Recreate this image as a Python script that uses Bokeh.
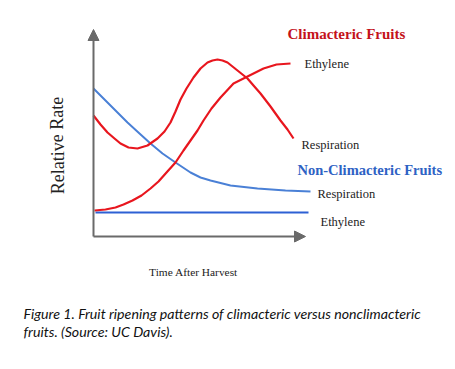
from bokeh.plotting import figure
from bokeh.models import Range1d, Arrow, NormalHead, Label
from bokeh.embed import file_html
from bokeh.resources import INLINE

# Time after harvest (arbitrary units) and relative rates
clim_resp_t = [0, 0.35, 0.7, 1.05, 1.35, 1.75, 2.2, 2.7, 3.2, 3.55, 3.85, 4.1, 4.35, 4.65, 5.0, 5.35, 5.7, 5.95,
               6.2, 6.45, 6.7, 7.2, 7.7, 8.0, 8.35, 8.85, 9.35, 9.7, 10.0]
clim_resp_v = [6.05, 5.6, 5.2, 4.9, 4.65, 4.45, 4.4, 4.55, 4.9, 5.25, 5.7, 6.25, 6.85, 7.4, 7.95, 8.4, 8.7, 8.8,
               8.85, 8.8, 8.7, 8.3, 7.9, 7.55, 7.15, 6.5, 5.8, 5.35, 4.9]

clim_eth_t = [0.05, 0.6, 1.1, 1.5, 1.95, 2.4, 2.85, 3.25, 3.65, 4.1, 4.5, 4.85, 5.2, 5.5, 5.9, 6.35, 7.0, 7.7,
              8.1, 8.5, 9.15, 9.85]
clim_eth_v = [1.3, 1.35, 1.45, 1.6, 1.8, 2.05, 2.4, 2.75, 3.2, 3.7, 4.3, 4.8, 5.3, 5.8, 6.4, 6.95, 7.65, 8.0,
              8.2, 8.4, 8.6, 8.65]

non_resp_t = [0, 0.5, 1.1, 1.7, 2.3, 2.85, 3.45, 4.1, 4.85, 5.35, 5.85, 6.85, 8.2, 9.6, 10.85]
non_resp_v = [7.4, 6.9, 6.3, 5.7, 5.15, 4.65, 4.15, 3.7, 3.2, 2.95, 2.8, 2.55, 2.4, 2.3, 2.25]

non_eth_t = [0.1, 10.75]
non_eth_v = [1.2, 1.2]

x_axis_end = 10.6
y_axis_end = 10.35

RED = "#e8161e"
RED_T = "#c4121a"
BLUE_R = "#4a80d6"
BLUE_E = "#2d60d4"
BLUE_T = "#2e62c4"
GREY = "#6a6a6a"
TXT = "#222222"
SERIF = "Liberation Serif"

p = figure(width=447, height=361, output_backend="svg", toolbar_location=None,
           x_range=Range1d(-4.65, 17.7), y_range=Range1d(-6.25, 11.8),
           min_border=0, outline_line_color=None)
p.axis.visible = False
p.grid.visible = False
p.background_fill_color = "white"
p.border_fill_color = "white"

# axes with arrows
p.add_layout(Arrow(x_start=0, y_start=0, x_end=0, y_end=y_axis_end, line_color=GREY, line_width=2,
                   end=NormalHead(size=11, fill_color=GREY, line_color=GREY)))
p.add_layout(Arrow(x_start=0, y_start=0, x_end=x_axis_end, y_end=0, line_color=GREY, line_width=2,
                   end=NormalHead(size=11, fill_color=GREY, line_color=GREY)))

p.line(non_eth_t, non_eth_v, line_color=BLUE_E, line_width=2.2)
p.line(non_resp_t, non_resp_v, line_color=BLUE_R, line_width=2, line_join="round")
p.line(clim_eth_t, clim_eth_v, line_color=RED, line_width=2.2, line_join="round")
p.line(clim_resp_t, clim_resp_v, line_color=RED, line_width=2.2, line_join="round")

def lab(x, y, t, size, color=TXT, style="normal", font=SERIF, align="left", angle=0):
    p.add_layout(Label(x=x, y=y, text=t, text_font=font, text_font_size=size, text_color=color,
                       text_font_style=style, text_align=align, text_baseline="middle", angle=angle))

lab(9.7, 10.15, "Climacteric Fruits", "15px", RED_T, "bold")
lab(10.55, 8.65, "Ethylene", "12.5px")
lab(10.4, 4.6, "Respiration", "12.5px")
lab(10.2, 3.35, "Non-Climacteric Fruits", "14.5px", BLUE_T, "bold")
lab(11.2, 2.15, "Respiration", "12.5px")
lab(11.35, 0.75, "Ethylene", "12.5px")
lab(-1.8, 4.55, "Relative Rate", "18px", align="center", angle=1.5708)
lab(5.0, -1.75, "Time After Harvest", "11.4px", align="center")
lab(-3.5, -3.85, "Figure 1. Fruit ripening patterns of climacteric versus nonclimacteric", "14.2px", "#111111", "italic", "Lato")
lab(-3.5, -4.75, "fruits. (Source: UC Davis).", "14.2px", "#111111", "italic", "Lato")

open("out.html", "w").write(file_html(p, INLINE))
